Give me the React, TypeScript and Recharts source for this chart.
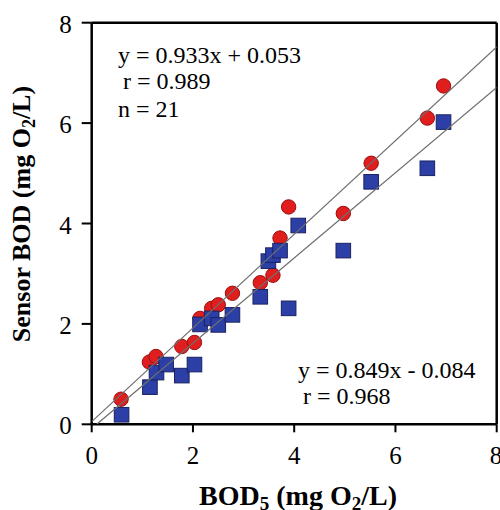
import { ScatterChart, Scatter, XAxis, YAxis, ReferenceLine } from "recharts";

// Conventional BOD5 (x) vs sensor BOD (y), mg O2/L
const circleX = [0.58, 1.14, 1.27, 1.78, 2.03, 2.14, 2.37, 2.5, 2.78, 3.33, 3.58, 3.72, 3.89, 4.97, 5.52, 6.63, 6.95];
const circleY = [0.5, 1.24, 1.35, 1.55, 1.63, 2.11, 2.31, 2.38, 2.61, 2.82, 2.97, 3.71, 4.33, 4.2, 5.2, 6.1, 6.74];

const squareX = [0.59, 1.15, 1.28, 1.47, 1.78, 2.03, 2.14, 2.37, 2.5, 2.78, 3.33, 3.49, 3.58, 3.72, 3.89, 4.08, 4.97, 5.52, 6.63, 6.95];
const squareY = [0.19, 0.74, 1.03, 1.19, 0.97, 1.19, 1.99, 2.11, 1.98, 2.18, 2.54, 3.25, 3.37, 3.46, 2.31, 3.96, 3.46, 4.83, 5.1, 6.02];

// fit lines as printed on the chart: [slope, intercept]
const fitCircle = [0.933, 0.053];
const fitSquare = [0.849, -0.084];

const ticks = [0, 2, 4, 6, 8];

const circles = circleX.map((x, i) => ({ x, y: circleY[i] }));
const squares = squareX.map((x, i) => ({ x, y: squareY[i] }));

const fitLine = ([m, b]: number[]) => {
  const x0 = Math.max(0, -b / m);
  return [
    { x: x0, y: m * x0 + b },
    { x: 8, y: m * 8 + b },
  ];
};

const FONT = "'Liberation Serif', 'Times New Roman', serif";

const Circle = (props: any) => (
  <circle cx={props.cx} cy={props.cy} r={7.2} fill="#e01e1e" stroke="#9a0f0f" strokeWidth={1} />
);

const Square = (props: any) => (
  <rect x={props.cx - 7.3} y={props.cy - 7.3} width={14.6} height={14.6} fill="#2b3fa6" stroke="#1b2260" strokeWidth={1} />
);

const NoDot = () => null;

const XTick = (props: any) => (
  <text x={props.x} y={props.y} dy={17} textAnchor="middle" fontFamily={FONT} fontSize={25} fill="#000">
    {props.payload.value}
  </text>
);

const YTick = (props: any) => (
  <text x={props.x} y={props.y} dy={10} textAnchor="end" fontFamily={FONT} fontSize={25} fill="#000">
    {props.payload.value}
  </text>
);

export default function App() {
  return (
    <div style={{ position: "fixed", left: 0, top: 0, width: 500, height: 510, background: "#fff" }}>
      <ScatterChart width={500} height={510} margin={{ top: 22.7, right: 3.3, bottom: 0, left: 0 }}>
        <XAxis
          type="number"
          dataKey="x"
          domain={[0, 8]}
          ticks={ticks}
          allowDataOverflow
          height={85.7}
          tickSize={8}
          tickMargin={15}
          axisLine={{ stroke: "#000", strokeWidth: 2.5 }}
          tickLine={{ stroke: "#000", strokeWidth: 2 }}
          tick={<XTick />}
        />
        <YAxis
          type="number"
          dataKey="y"
          domain={[0, 8]}
          ticks={ticks}
          allowDataOverflow
          width={91.7}
          tickSize={10}
          tickMargin={10}
          axisLine={{ stroke: "#000", strokeWidth: 2.5 }}
          tickLine={{ stroke: "#000", strokeWidth: 2 }}
          tick={<YTick />}
        />
        <ReferenceLine y={8} stroke="#000" strokeWidth={2.5} />
        <ReferenceLine x={8} stroke="#000" strokeWidth={2.5} />
        <Scatter data={circles} shape={<Circle />} isAnimationActive={false} />
        <Scatter data={squares} shape={<Square />} isAnimationActive={false} />
        <Scatter data={fitLine(fitCircle)} line={{ stroke: "#6e6e6e", strokeWidth: 1.2 }} shape={<NoDot />} isAnimationActive={false} />
        <Scatter data={fitLine(fitSquare)} line={{ stroke: "#6e6e6e", strokeWidth: 1.2 }} shape={<NoDot />} isAnimationActive={false} />
      </ScatterChart>
      <svg width={500} height={510} style={{ position: "absolute", left: 0, top: 0, pointerEvents: "none" }}>
        <g fontFamily={FONT} fontSize={24} fill="#000">
          <text x={118} y={63}>y = 0.933x + 0.053</text>
          <text x={123} y={89}>r = 0.989</text>
          <text x={118} y={117}>n = 21</text>
          <text x={298} y={378}>y = 0.849x - 0.084</text>
          <text x={303} y={404}>r = 0.968</text>
        </g>
        <text x={298} y={505} textAnchor="middle" fontFamily={FONT} fontSize={28} fontWeight="bold" fill="#000">
          BOD<tspan fontSize={19} dy={5}>5</tspan>
          <tspan dy={-5}> (mg O</tspan>
          <tspan fontSize={19} dy={5}>2</tspan>
          <tspan dy={-5}>/L)</tspan>
        </text>
        <text
          transform="translate(30,214) rotate(-90)"
          textAnchor="middle"
          fontFamily={FONT}
          fontSize={26}
          fontWeight="bold"
          fill="#000"
        >
          Sensor BOD (mg O<tspan fontSize={18} dy={5}>2</tspan>
          <tspan dy={-5}>/L)</tspan>
        </text>
      </svg>
    </div>
  );
}
